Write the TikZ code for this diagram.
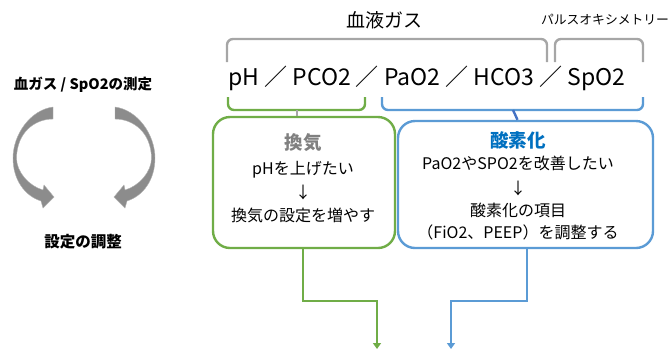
\documentclass[tikz,border=0pt]{standalone}
\usepackage{fontspec}
\setmainfont{Noto Sans CJK JP}
\usetikzlibrary{arrows.meta}
\definecolor{cgreen}{HTML}{70AD47}
\definecolor{cblue}{HTML}{5B9BD5}
\definecolor{cdblue}{HTML}{4472C4}
\definecolor{cgray}{HTML}{A6A6A6}
\definecolor{ctblue}{HTML}{0070C0}
\definecolor{carrow}{HTML}{8C8C8C}
\tikzset{
  txt/.style={inner sep=0pt, anchor=center},
  fs/.style={font=\fontsize{#1}{#1}\selectfont},
  bfs/.style={font=\bfseries\fontsize{#1}{#1}\selectfont},
  bracket/.style={line width=2.4pt, rounded corners=6pt},
  box/.style={draw, line width=2.4pt, rounded corners=17pt, fill=white},
  conn/.style={line width=2.4pt},
  circarrow/.pic={
    \fill[carrow, draw=black!30, line width=0.4pt]
      (53,107) .. controls (30,110) and (13,135) .. (13,158)
      .. controls (13,180) and (25,196) .. (41,201)
      -- (43,208) -- (54,197) -- (44,185) -- (43,190)
      .. controls (29,186) and (16.5,172) .. (16.5,158)
      .. controls (17,132) and (35,119) .. (53,119) -- cycle;
  }
}
\begin{document}
\begin{tikzpicture}[x=1pt,y=-1pt]
\useasboundingbox (0,0) rectangle (669,349);
% left cycle
\node[txt, bfs=14.5] (meas) at (83,85) {血ガス / SpO2の測定};
\node[txt, bfs=15.5] (adj) at (83,242) {設定の調整};
\pic at (0,0) {circarrow};
\pic[xscale=-1] at (168,0) {circarrow};
% top labels
\node[txt, fs=19] (bg) at (384,20) {血液ガス};
\node[txt, fs=12.8] (po) at (605,20) {パルスオキシメトリー};
\draw[bracket, cgray] (227,62) -- (227,39) -- (547,39) -- (547,62);
\draw[bracket, cgray] (555,62) -- (555,39) -- (643,39) -- (643,62);
\node[txt, fs=23, anchor=west] (row) at (228,78) {pH ／ PCO2 ／ PaO2 ／ HCO3 ／ SpO2};
\draw[bracket, cgreen] (228,97) -- (228,110) -- (365,110) -- (365,97);
\draw[bracket, cblue] (382,97) -- (382,110) -- (643,110) -- (643,97);
\coordinate (gbr) at (297,110);
\coordinate (bbr) at (513,110);
% boxes
\node[box, draw=cgreen, minimum width=182pt, minimum height=131pt] (gbox) at (304,182.5) {};
\node[box, draw=cblue, minimum width=255pt, minimum height=127pt] (bbox) at (525.5,184.5) {};
\draw[conn, cgray] (gbr) -- (gbr |- gbox.north);
\draw[conn, cdblue] (bbr) -- ([xshift=-8pt]bbox.north);
% green text
\node[txt, bfs=18.5, text=gray] (g1) at (303,143) {換気};
\node[txt, fs=16] (g2) at (303,170) {pHを上げたい};
\node[txt, fs=16] (g3) at (303,192) {↓};
\node[txt, fs=16] (g4) at (303,215) {換気の設定を増やす};
% blue text
\node[txt, bfs=18.5, text=ctblue] (b1) at (518,140) {酸素化};
\node[txt, fs=16] (b2) at (518,163) {PaO2やSPO2を改善したい};
\node[txt, fs=16] (b3) at (518,188) {↓};
\node[txt, fs=16] (b4) at (518,210) {酸素化の項目};
\node[txt, fs=16] (b5) at (518,232) {（FiO2、PEEP）を調整する};
% bottom connectors
\coordinate (gend) at (377,349);
\coordinate (bend) at (451,349);
\draw[conn, cgreen, -{Triangle[width=8pt,length=6pt]}] ([xshift=-1pt]gbox.south) -- ++(0,52) -| (gend);
\draw[conn, cblue, -{Triangle[width=8pt,length=6pt]}] ([xshift=1.5pt]bbox.south) -- ++(0,52) -| (bend);
\end{tikzpicture}
\end{document}
